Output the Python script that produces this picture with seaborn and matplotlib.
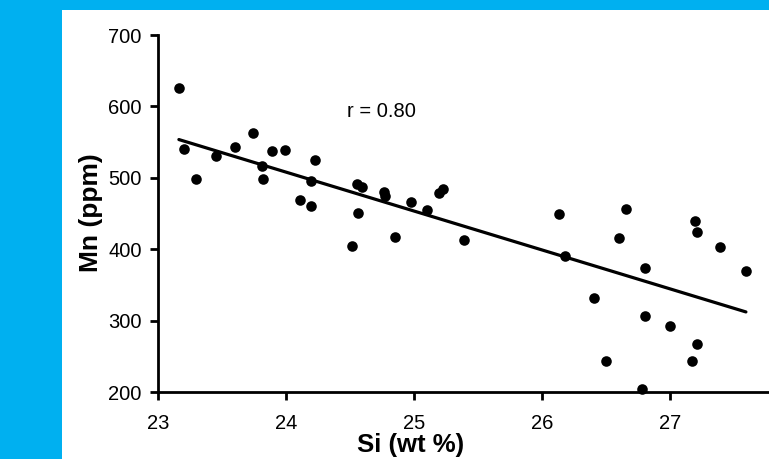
import numpy as np
import pandas as pd
import seaborn as sns
import matplotlib
matplotlib.use("Agg")
import matplotlib.pyplot as plt
from matplotlib.patches import Rectangle

# Data
si = [23.16, 23.20, 23.29, 23.45, 23.60, 23.74, 23.81, 23.82, 23.89, 23.99,
      24.22, 24.19, 24.11, 24.19, 24.55, 24.59, 24.56, 24.51, 24.76, 24.77,
      24.85, 24.97, 25.10, 25.19, 25.22, 25.39, 26.13, 26.18, 26.40, 26.50,
      26.60, 26.65, 26.80, 26.80, 26.78, 27.00, 27.17, 27.21, 27.19, 27.21,
      27.39, 27.59]
mn = [626, 540, 499, 531, 543, 563, 516, 499, 537, 539,
      525, 496, 469, 461, 491, 487, 451, 404, 480, 475,
      417, 466, 455, 479, 485, 413, 449, 391, 331, 243,
      415, 457, 373, 306, 204, 292, 243, 267, 439, 424,
      403, 370]
x_ticks = [23, 24, 25, 26, 27]
y_ticks = [200, 300, 400, 500, 600, 700]
r_label = "r = 0.80"
x_label = "Si (wt %)"
y_label = "Mn (ppm)"

df = pd.DataFrame({"Si": si, "Mn": mn})

sns.set_theme(style="white")
plt.rcParams['font.family'] = ['Liberation Sans', 'DejaVu Sans']

W, H = 769, 459
fig = plt.figure(figsize=(W / 100, H / 100), dpi=100, facecolor="white")
cyan = "#00B0F0"
fig.patches.append(Rectangle((0, 0), 62 / W, 1, transform=fig.transFigure,
                             facecolor=cyan, edgecolor="none", zorder=0))
fig.patches.append(Rectangle((0, 1 - 10 / H), 1, 10 / H, transform=fig.transFigure,
                             facecolor=cyan, edgecolor="none", zorder=0))

x0, x1 = 158.4, 769
ytop, ybot = 35, 392
ax = fig.add_axes([x0 / W, 1 - ybot / H, (x1 - x0) / W, (ybot - ytop) / H])
ax.set_facecolor("white")

sns.regplot(data=df, x="Si", y="Mn", ci=None, ax=ax, truncate=True,
            scatter_kws=dict(s=58, color="black", linewidths=0, alpha=1, clip_on=False, zorder=3),
            line_kws=dict(color="black", lw=2.3))

ax.set_xlim(23, 23 + (x1 - x0) / 128)
ax.set_ylim(200, 700)
ax.set_xticks(x_ticks)
ax.set_yticks(y_ticks)
ax.set_xlabel("")
ax.set_ylabel("")
for s in ["top", "right"]:
    ax.spines[s].set_visible(False)
for s in ["left", "bottom"]:
    ax.spines[s].set_color("black")
    ax.spines[s].set_linewidth(2)
ax.tick_params(axis="both", direction="out", length=6, width=2, color="black",
               labelsize=14.5, labelcolor="black")
ax.tick_params(axis="x", pad=10)
ax.tick_params(axis="y", pad=6)
ax.tick_params(left=True, bottom=True)

ax.text(24.74, 593, r_label, ha="center", va="center", fontsize=14.5, color="black")

fig.text(411 / W, 1 - 445 / H, x_label, ha="center", va="center",
         fontsize=18.5, fontweight="bold", color="black")
fig.text(91 / W, 1 - 213 / H, y_label, ha="center", va="center", rotation=90,
         fontsize=19, fontweight="bold", color="black")

fig.savefig("out.png", dpi=100, facecolor="white")
